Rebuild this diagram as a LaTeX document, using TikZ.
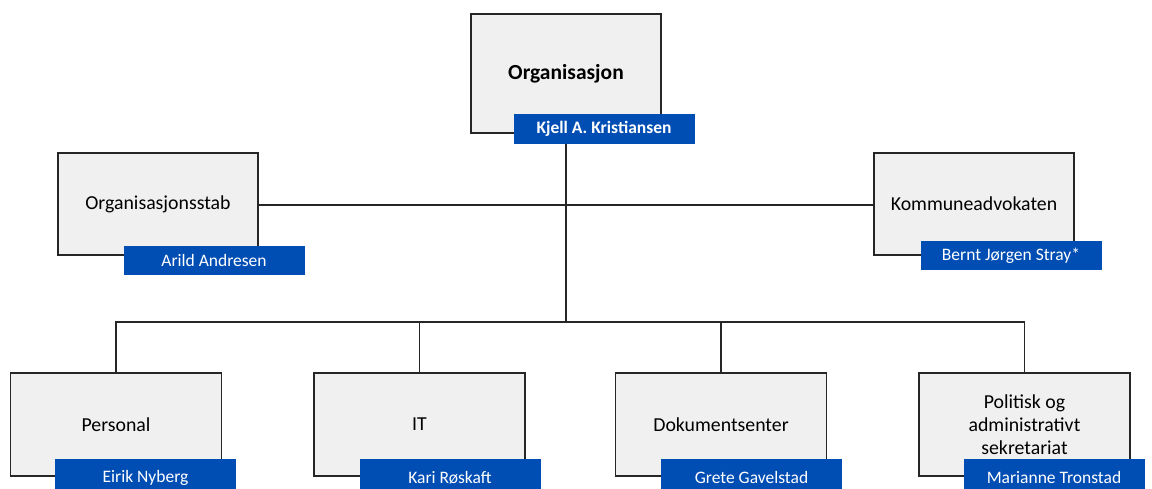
\documentclass[tikz,border=0pt]{standalone}
\usepackage{fontspec}
\setmainfont{Carlito}
\usetikzlibrary{positioning}
\definecolor{namebg}{RGB}{0,78,180}
\definecolor{unitbg}{RGB}{240,240,240}
\tikzset{unit/.style={draw=black!85, line width=1.4pt, fill=unitbg, align=center, inner sep=2pt, font=\fontsize{19.8}{23}\selectfont},
  wide/.style={unit, minimum width=211pt, minimum height=103pt},
  holder/.style={fill=namebg, text=white, minimum width=181pt, minimum height=29pt, inner sep=0pt, font=\fontsize{17.5}{20}\selectfont},
  lowholder/.style={holder, minimum height=38pt},
  link/.style={draw=black!85, line width=1.5pt}}

\begin{document}
\begin{tikzpicture}[x=1pt, y=-1pt]
	\useasboundingbox (0,0) rectangle (1152,489);
	% lines first, boxes on top
	\coordinate (split) at (566,322);
	\draw[link] (566,133) -- (split);
	\draw[link] (258,205) -- (874,205);
	\node[unit, minimum width=190pt, minimum height=119pt, font=\fontsize{21.5}{25}\selectfont\bfseries] (org) at (566,73.5) {Organisasjon};
	\node[unit, minimum width=200pt, minimum height=102pt] (stab) at (158,204) {Organisasjonsstab};
	\node[unit, minimum width=200pt, minimum height=102pt] (adv) at (974,204) {Kommuneadvokaten};
	\node[wide] (pers) at (116,424.5) {Personal};
	\node[wide] (it) at (419.5,424.5) {IT};
	\node[wide] (dok) at (721,424.5) {Dokumentsenter};
	\node[wide] (pol) at (1024.5,424.5) {Politisk og\\ administrativt\\ sekretariat};
	\node[holder, anchor=north west, font=\fontsize{17.5}{20}\selectfont\bfseries, minimum height=30pt] (kjell) at ([xshift=43pt, yshift=20pt]org.south west) {Kjell A. Kristiansen};
	\node[holder, anchor=north west] (arild) at ([xshift=66pt, yshift=10pt]stab.south west) {Arild Andresen};
	\node[holder, anchor=north west] (bernt) at ([xshift=47pt, yshift=15pt]adv.south west) {Bernt Jørgen Stray*};
	\node[lowholder, anchor=north west] (eirik) at ([xshift=45pt, yshift=18pt]pers.south west) {Eirik Nyberg};
	\node[lowholder, anchor=north west] (kari) at ([xshift=46pt, yshift=18pt]it.south west) {Kari Røskaft};
	\node[lowholder, anchor=north west] (grete) at ([xshift=46pt, yshift=18pt]dok.south west) {Grete Gavelstad};
	\node[lowholder, anchor=north west] (marianne) at ([xshift=45pt, yshift=18pt]pol.south west) {Marianne Tronstad};
	% connectors to the lower units
	\draw[link] (pers.north) |- (split) -| (pol.north);
	\draw[link] (it.north) -- (it.north |- split);
	\draw[link] (dok.north) -- (dok.north |- split);
\end{tikzpicture}
\end{document}
